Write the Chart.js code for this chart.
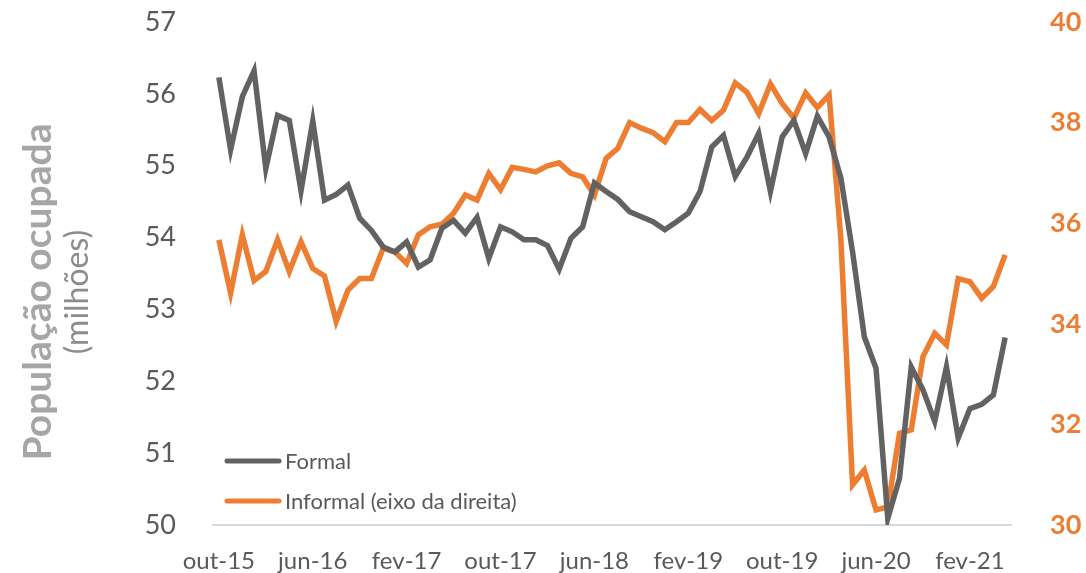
<!DOCTYPE html>
<html>
<head>
<meta charset="utf-8">
<script src="https://cdn.jsdelivr.net/npm/chart.js@4.4.1/dist/chart.umd.min.js"></script>
<style>
  html, body { margin: 0; padding: 0; background: #fff; }
  #wrap { width: 1086px; height: 573px; position: relative; }
</style>
</head>
<body>
<div id="wrap"><canvas id="chart" width="1086" height="573"></canvas></div>
<script>
// ─── Data ───
const monthNames = ['jan', 'fev', 'mar', 'abr', 'mai', 'jun', 'jul', 'ago', 'set', 'out', 'nov', 'dez'];
const startYear = 2015, startMonth = 9; // out-15
const nMonths = 68;                      // out-15 .. mai-21
const months = [];
for (let i = 0; i < nMonths; i++) {
  const m = (startMonth + i) % 12;
  const y = startYear + Math.floor((startMonth + i) / 12);
  months.push(monthNames[m] + '-' + String(y).slice(2));
}

const formal = [
  56.23, 55.22, 55.96, 56.32, 54.96, 55.70, 55.63, 54.65, 55.62, 54.52,
  54.60, 54.73, 54.27, 54.10, 53.87, 53.80, 53.94, 53.59, 53.69, 54.13,
  54.24, 54.06, 54.28, 53.71, 54.15, 54.08, 53.97, 53.97, 53.89, 53.56,
  53.99, 54.15, 54.76, 54.64, 54.53, 54.36, 54.29, 54.22, 54.11, 54.22,
  54.34, 54.64, 55.26, 55.42, 54.85, 55.12, 55.45, 54.64, 55.40, 55.63,
  55.17, 55.69, 55.40, 54.83, 53.80, 52.62, 52.18, 50.09, 50.65, 52.20,
  51.88, 51.44, 52.20, 51.21, 51.62, 51.68, 51.81, 52.61
];

const informal = [
  35.67, 34.61, 35.77, 34.86, 35.04, 35.67, 35.04, 35.63, 35.10, 34.95,
  34.05, 34.67, 34.90, 34.90, 35.50, 35.43, 35.20, 35.77, 35.93, 35.98,
  36.20, 36.56, 36.46, 36.99, 36.67, 37.11, 37.07, 37.02, 37.14, 37.20,
  36.99, 36.92, 36.56, 37.29, 37.49, 38.00, 37.89, 37.80, 37.62, 38.00,
  38.00, 38.26, 38.04, 38.25, 38.79, 38.60, 38.18, 38.77, 38.38, 38.09,
  38.59, 38.30, 38.55, 35.70, 30.80, 31.09, 30.30, 30.36, 31.82, 31.89,
  33.35, 33.81, 33.58, 34.90, 34.84, 34.51, 34.74, 35.37
];

const leftTicks = [50, 51, 52, 53, 54, 55, 56, 57];
const rightTicks = [30, 32, 34, 36, 38, 40];
const labelEvery = 8;

// ─── Colors / fonts ───
const GRAY = '#626262';
const ORANGE = '#ED7D31';
const TEXT = '#595959';
const FONT = 'Lato, "Open Sans", sans-serif';

// ─── Plugin: inside legend + axis titles ───
const decorations = {
  id: 'decorations',
  afterDraw(chart) {
    const ctx = chart.ctx;
    ctx.save();
    // legend
    const items = [
      { label: 'Formal', color: GRAY, y: 461 },
      { label: 'Informal (eixo da direita)', color: ORANGE, y: 501 }
    ];
    items.forEach(it => {
      ctx.strokeStyle = it.color;
      ctx.lineWidth = 5;
      ctx.lineCap = 'round';
      ctx.beginPath();
      ctx.moveTo(227, it.y);
      ctx.lineTo(279, it.y);
      ctx.stroke();
      ctx.fillStyle = TEXT;
      ctx.font = '22px ' + FONT;
      ctx.textAlign = 'left';
      ctx.textBaseline = 'middle';
      ctx.fillText(it.label, 285, it.y + 1);
    });
    // left title
    ctx.translate(38, 292);
    ctx.rotate(-Math.PI / 2);
    ctx.textAlign = 'center';
    ctx.textBaseline = 'middle';
    ctx.fillStyle = '#A6A6A6';
    ctx.font = 'bold 39px ' + FONT;
    ctx.fillText('População ocupada', 0, 0);
    ctx.fillStyle = '#8C8C8C';
    ctx.font = '32px ' + FONT;
    ctx.fillText('(milhões)', 0, 40);
    ctx.restore();
  }
};

// drop the automatic half-label padding so the plot area spans 57 → 50 exactly
function noPad(s) { s.paddingTop = 0; s.paddingBottom = 0; }

new Chart(document.getElementById('chart'), {
  type: 'line',
  data: {
    labels: months,
    datasets: [
      { label: 'Formal', data: formal, yAxisID: 'y', borderColor: GRAY, borderWidth: 5.5, pointRadius: 0, tension: 0, order: 1 },
      { label: 'Informal (eixo da direita)', data: informal, yAxisID: 'y1', borderColor: ORANGE, borderWidth: 5.5, pointRadius: 0, tension: 0, order: 2 }
    ]
  },
  options: {
    responsive: false,
    animation: false,
    layout: { padding: { top: 22, right: 0, left: 0, bottom: 0 } },
    plugins: { legend: { display: false }, tooltip: { enabled: false } },
    scales: {
      x: {
        offset: true,
        grid: { display: false, drawTicks: false },
        border: { display: true, color: '#D9D9D9', width: 2 },
        ticks: {
          autoSkip: false, maxRotation: 0, padding: 22,
          color: TEXT, font: { family: FONT, size: 24 },
          callback(v, i) { return i % labelEvery === 0 ? months[i] : null; }
        },
        afterFit(s) { s.height = 48; s.paddingLeft = 0; s.paddingRight = 0; }
      },
      y: {
        position: 'left', min: 50, max: 57,
        grid: { display: false, drawTicks: false },
        border: { display: false },
        afterBuildTicks(s) { s.ticks = leftTicks.map(v => ({ value: v })); },
        ticks: { color: TEXT, font: { family: FONT, size: 27 }, padding: 37 },
        afterFit(s) { s.width = 213; noPad(s); }
      },
      y1: {
        position: 'right', min: 30, max: 40,
        grid: { display: false, drawTicks: false },
        border: { display: false },
        afterBuildTicks(s) { s.ticks = rightTicks.map(v => ({ value: v })); },
        ticks: { color: ORANGE, font: { family: FONT, size: 27, weight: 'bold' }, padding: 39 },
        afterFit(s) { s.width = 75; noPad(s); }
      }
    }
  },
  plugins: [decorations]
});
</script>
</body>
</html>
